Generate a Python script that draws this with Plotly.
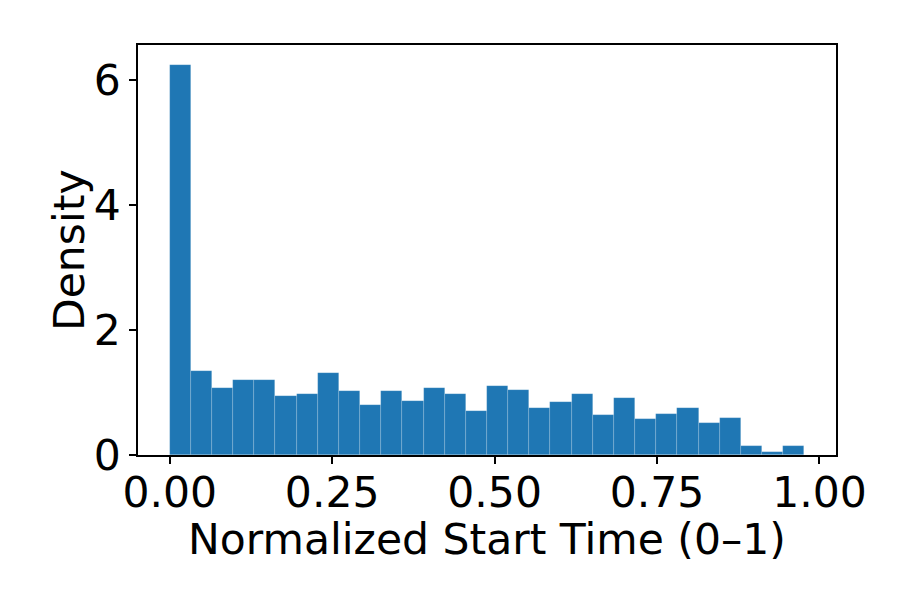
import plotly.graph_objects as go

# histogram of normalized start times (density), 30 equal bins over [0, max]
bin_start = 0.0
bin_end = 0.9766
density = [
    6.25, 1.35, 1.08, 1.20, 1.20, 0.95, 0.98, 1.32, 1.02, 0.80,
    1.02, 0.86, 1.08, 0.98, 0.71, 1.10, 1.04, 0.76, 0.85, 0.97,
    0.64, 0.91, 0.58, 0.66, 0.76, 0.51, 0.60, 0.14, 0.05, 0.14,
]
x_ticks = [0.0, 0.25, 0.5, 0.75, 1.0]
y_ticks = [0, 2, 4, 6]

n_bins = len(density)
bin_width = (bin_end - bin_start) / n_bins
bin_centers = [bin_start + bin_width * (i + 0.5) for i in range(n_bins)]

fig = go.Figure(
    go.Bar(
        x=bin_centers,
        y=density,
        width=bin_width,
        marker=dict(color="#1f77b4", line=dict(color="rgba(255,255,255,0.25)", width=0.6)),
    )
)

font = dict(family="DejaVu Sans", size=42.5, color="black")
pad = 0.05 * (bin_end - bin_start)

# the page body adds 8px around the figure, margins are trimmed to match
fig.update_layout(
    width=913,
    height=609,
    margin=dict(l=130, r=85, t=37, b=162),
    plot_bgcolor="white",
    paper_bgcolor="white",
    font=font,
    showlegend=False,
    bargap=0,
)

axis_style = dict(
    ticks="outside",
    ticklen=7,
    tickwidth=1.5,
    tickcolor="black",
    showline=True,
    linecolor="black",
    linewidth=1.5,
    mirror=True,
    showgrid=False,
    zeroline=False,
)
fig.update_xaxes(
    range=[bin_start - pad, bin_end + pad],
    tickvals=x_ticks,
    tickformat=".2f",
    ticklabelstandoff=-8,
    **axis_style,
)
fig.update_yaxes(range=[0, max(density) * 1.05], tickvals=y_ticks, **axis_style)

# axis titles as annotations so they sit where matplotlib put them
fig.add_annotation(
    text="Normalized Start Time (0–1)",
    xref="paper", yref="paper", x=0.5, y=0,
    xanchor="center", yanchor="middle", yshift=-84,
    showarrow=False, font=font,
)
fig.add_annotation(
    text="Density",
    xref="paper", yref="paper", x=0, y=0.5,
    xanchor="center", yanchor="middle", xshift=-69, textangle=-90,
    showarrow=False, font=font,
)

fig.write_html("out.html")
